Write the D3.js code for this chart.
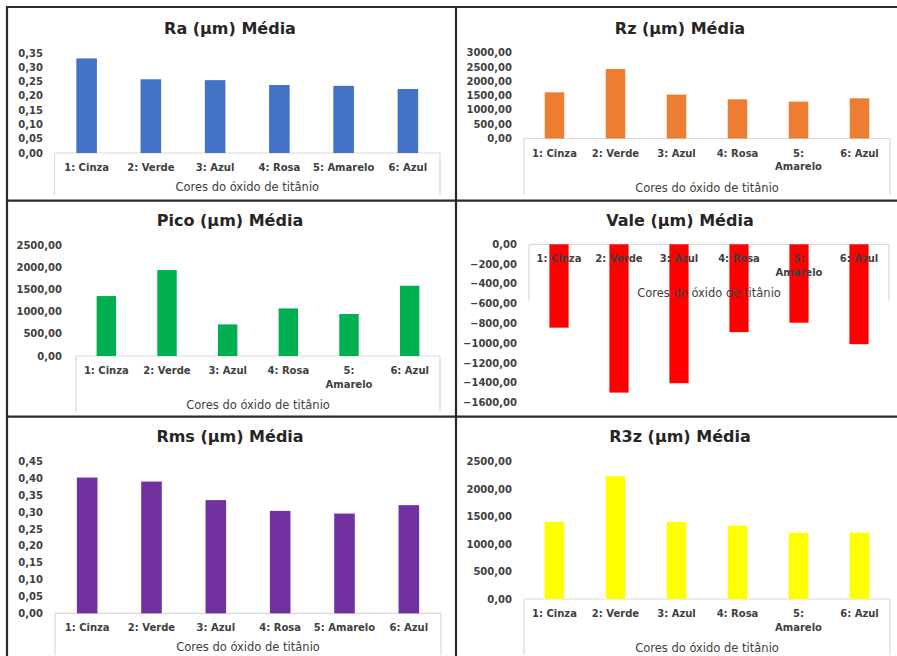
<!DOCTYPE html>
<html><head><meta charset="utf-8">
<script src="https://d3js.org/d3.v7.min.js"></script>
<style>html,body{margin:0;padding:0;background:#fff;}svg{display:block;}</style>
</head><body>
<svg id="c" width="897" height="656"></svg>
<script>
// ---- data ----
const categories = ["1: Cinza","2: Verde","3: Azul","4: Rosa","5: Amarelo","6: Azul"];
const axisTitle = "Cores do óxido de titânio";
const raValues   = [0.331, 0.258, 0.255, 0.238, 0.235, 0.224];
const rzValues   = [1615, 2430, 1535, 1370, 1290, 1405];
const picoValues = [1350, 1935, 712, 1072, 945, 1582];
const valeValues = [-842, -1498, -1403, -887, -792, -1009];
const rmsValues  = [0.403, 0.391, 0.336, 0.304, 0.296, 0.321];
const r3zValues  = [1405, 2235, 1405, 1335, 1205, 1205];
const titles = ["Ra (µm) Média","Rz (µm) Média","Pico (µm) Média","Vale (µm) Média","Rms (µm) Média","R3z (µm) Média"];
const raTicks   = [0,0.05,0.10,0.15,0.20,0.25,0.30,0.35];
const rzTicks   = [0,500,1000,1500,2000,2500,3000];
const picoTicks = [0,500,1000,1500,2000,2500];
const valeTicks = [0,-200,-400,-600,-800,-1000,-1200,-1400,-1600];
const rmsTicks  = [0,0.05,0.10,0.15,0.20,0.25,0.30,0.35,0.40,0.45];
const r3zTicks  = [0,500,1000,1500,2000,2500];

// ---- layout ----
const panels = [
  {title:titles[0], values:raValues,   ticks:raTicks,   color:"#4472C4", cx:230, ty:33.5,
   x:[54.5,440], y:[153,53],    dom:[0,0.35],   lblX:43,  wrap:false},
  {title:titles[1], values:rzValues,   ticks:rzTicks,   color:"#ED7D31", cx:680, ty:33.5,
   x:[524,890],  y:[138.5,52.7],dom:[0,3000],   lblX:512, wrap:true},
  {title:titles[2], values:picoValues, ticks:picoTicks, color:"#00B050", cx:230, ty:226,
   x:[76,440],   y:[356,245],   dom:[0,2500],   lblX:62,  wrap:true},
  {title:titles[3], values:valeValues, ticks:valeTicks, color:"#FF0000", cx:680, ty:226,
   x:[529,889],  y:[402.7,244.3],dom:[-1600,0], lblX:517, wrap:true},
  {title:titles[4], values:rmsValues,  ticks:rmsTicks,  color:"#7030A0", cx:230, ty:442,
   x:[55,441],   y:[613.3,461.7],dom:[0,0.45],  lblX:43,  wrap:false},
  {title:titles[5], values:r3zValues,  ticks:r3zTicks,  color:"#FFFF00", cx:680, ty:442,
   x:[524,890],  y:[599,461.7], dom:[0,2500],   lblX:512, wrap:true}
];

const loc = d3.formatLocale({decimal:",", thousands:"", grouping:[3], currency:["",""]});
const fmt = loc.format(".2f");
const FONT = "'DejaVu Sans', sans-serif";
const svg = d3.select("#c");

panels.forEach(p => {
  const g = svg.append("g");
  const x = d3.scaleBand().domain(categories).range(p.x).paddingInner(0).paddingOuter(0);
  const y = d3.scaleLinear().domain(p.dom).range(p.y);
  const bw = x.bandwidth()*0.32;
  const y0 = y(0);

  // title
  g.append("text").attr("x",p.cx).attr("y",p.ty).attr("text-anchor","middle")
    .attr("font-family",FONT).attr("font-weight","bold").attr("font-size",16)
    .attr("fill","#262626").text(p.title);

  // y tick labels
  g.selectAll(".yt").data(p.ticks).enter().append("text")
    .attr("x",p.lblX).attr("y",d=>y(d)).attr("dy","0.35em").attr("text-anchor","end")
    .attr("font-family",FONT).attr("font-weight","bold").attr("font-size",10)
    .attr("fill","#404040").text(d=>fmt(d));

  // category axis box
  const boxBottom = y0 + (p.wrap ? 56 : 42);
  const ax = g.append("g").attr("stroke","#d9d9d9").attr("stroke-width",1.2).attr("fill","none");
  ax.append("line").attr("x1",p.x[0]).attr("x2",p.x[1]).attr("y1",y0).attr("y2",y0);
  ax.append("line").attr("x1",p.x[0]).attr("x2",p.x[0]).attr("y1",y0).attr("y2",boxBottom);
  ax.append("line").attr("x1",p.x[1]).attr("x2",p.x[1]).attr("y1",y0).attr("y2",boxBottom);

  // bars
  g.selectAll(".bar").data(p.values).enter().append("rect")
    .attr("x",(d,i)=>x(categories[i]) + (x.bandwidth()-bw)/2)
    .attr("y",d=>Math.min(y(d),y0))
    .attr("width",bw)
    .attr("height",d=>Math.abs(y(d)-y0))
    .attr("fill",p.color);

  // category labels
  categories.forEach(c => {
    const cxp = x(c) + x.bandwidth()/2;
    const t = g.append("text").attr("x",cxp).attr("text-anchor","middle")
      .attr("font-family",FONT).attr("font-weight","bold").attr("font-size",10)
      .attr("fill","#404040");
    const parts = (p.wrap && c.indexOf("Amarelo")>=0) ? c.split(" ") : [c];
    parts.forEach((s,k)=>{
      t.append("tspan").attr("x",cxp).attr("y",y0+14.5+13.5*k).attr("dy","0.35em").text(s);
    });
  });

  // axis title
  g.append("text").attr("x",(p.x[0]+p.x[1])/2).attr("y",y0+(p.wrap?49:34)).attr("dy","0.35em")
    .attr("text-anchor","middle").attr("font-family",FONT).attr("font-size",11.5)
    .attr("fill","#404040").text(axisTitle);
});

// panel frame
const fr = svg.append("g").attr("stroke","#2b2b2b").attr("stroke-width",2.2);
fr.append("line").attr("x1",6).attr("x2",897).attr("y1",7).attr("y2",7);
fr.append("line").attr("x1",7).attr("x2",7).attr("y1",6).attr("y2",656);
fr.append("line").attr("x1",456).attr("x2",456).attr("y1",6).attr("y2",656);
fr.append("line").attr("x1",6).attr("x2",897).attr("y1",200.7).attr("y2",200.7);
fr.append("line").attr("x1",6).attr("x2",897).attr("y1",416.7).attr("y2",416.7);
</script>
</body></html>
